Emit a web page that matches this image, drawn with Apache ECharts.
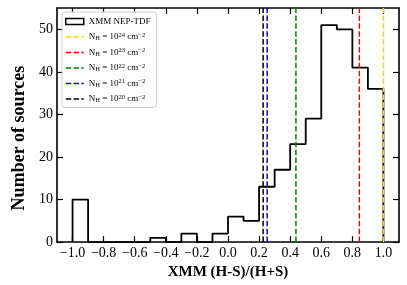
<!DOCTYPE html>
<html><head><meta charset="utf-8">
<script src="https://cdn.jsdelivr.net/npm/echarts@6/dist/echarts.min.js"></script>
<style>html,body{margin:0;padding:0;background:#fff}#c{width:407px;height:285px}</style>
</head><body><div id="c"></div>
<script>
// Histogram bins (left edges, width 0.1) and counts
const binStarts = [-1.0,-0.9,-0.8,-0.7,-0.6,-0.5,-0.4,-0.3,-0.2,-0.1,0.0,0.1,0.2,0.3,0.4,0.5,0.6,0.7,0.8,0.9];
const binEnds   = [-0.9,-0.8,-0.7,-0.6,-0.5,-0.4,-0.3,-0.2,-0.1,0.0,0.1,0.2,0.3,0.4,0.5,0.6,0.7,0.8,0.9,1.0];
const counts    = [10,0,0,0,0,1,0,2,0,2,6,5,13,17,23,29,51,50,41,36];
// NH reference lines
const nhNames  = ['24','23','22','21','20'];
const nhValues = [1.0, 0.845, 0.437, 0.252, 0.226];
const nhColors = ['#FFD700','#FF0000','#008000','#0000FF','#000000'];
// ticks
const xTicks = [-1.0,-0.8,-0.6,-0.4,-0.2,0.0,0.2,0.4,0.6,0.8,1.0];
const yTicks = [0,10,20,30,40,50];

const yMax = 55;
const histPts = [[binStarts[0],0]];
for (let i=0;i<counts.length;i++){ histPts.push([binStarts[i],counts[i]]); histPts.push([binEnds[i],counts[i]]); }
histPts.push([binEnds[binEnds.length-1],0]);

const FONT = 'Liberation Serif';
const dashIcon = 'path://M0,0h.01v.01h-.01z M18,6h-.01v-.01h.01z M0,2.3h5.5v1.5h-5.5z M7.8,2.3h5.5v1.5h-5.5z M15.6,2.3h2.4v1.5h-2.4z';

const series = [{
  name:'hist', type:'line', data:histPts, symbol:'none', silent:true,
  lineStyle:{color:'#000', width:1.8}, itemStyle:{color:'#000'}, z:2
}];
const legendData = [{name:'hist', icon:'rect', itemStyle:{color:'#fff', borderColor:'#000', borderWidth:1.5}}];
nhValues.forEach((v,i)=>{
  const nm = 'nh'+nhNames[i];
  series.push({name:nm, type:'line', data:[[v,0],[v,yMax]], symbol:'none', silent:true,
    lineStyle:{color:nhColors[i], width:1.5, type:[5.5,2.4]}, itemStyle:{color:nhColors[i]}, z:3});
  legendData.push({name:nm, icon:dashIcon, itemStyle:{color:nhColors[i]}});
});

const fmtX = v => (v<0?'\u2212':'') + Math.abs(v).toFixed(1);
const axisLine = {show:true, onZero:false, lineStyle:{color:'#000', width:1.6}};
const tickStyle = {inside:true, length:6, lineStyle:{color:'#000', width:1.2}};

const chart = echarts.init(document.getElementById('c'), null, {renderer:'canvas'});
chart.setOption({
  animation:false,
  backgroundColor:'#fff',
  grid:{left:57, right:8, top:8, bottom:37, containLabel:false},
  legend:{
    orient:'vertical', left:62, top:12, data:legendData,
    itemWidth:18, itemHeight:6, itemGap:4.5,
    padding:[4,6,3,3],
    borderColor:'#cccccc', borderWidth:1, borderRadius:3, backgroundColor:'rgba(255,255,255,0.85)',
    textStyle:{fontFamily:FONT, fontSize:9, color:'#000', lineHeight:11,
      rich:{
        t:{fontFamily:FONT, fontSize:9, color:'#000'},
        sub:{fontFamily:FONT, fontSize:6.5, color:'#000', padding:[3,0,0,0]},
        sup:{fontFamily:FONT, fontSize:6.5, color:'#000', padding:[0,0,4,0]}
      }},
    formatter: n => n==='hist' ? '{t|XMM NEP-TDF}' : '{t|N}{sub|H}{t| = 10}{sup|'+n.slice(2)+'}{t| cm}{sup|\u22122}'
  },
  xAxis:[{
    type:'value', min:-1.1, max:1.1, position:'bottom',
    name:'XMM (H-S)/(H+S)', nameLocation:'middle', nameGap:21,
    nameTextStyle:{fontFamily:FONT, fontSize:15, fontWeight:'bold', color:'#000'},
    axisLine:axisLine, splitLine:{show:false},
    axisTick:Object.assign({customValues:xTicks}, tickStyle),
    axisLabel:{customValues:xTicks, formatter:fmtX, fontFamily:FONT, fontSize:14, color:'#000', margin:4}
  },{
    type:'value', min:-1.1, max:1.1, position:'top',
    axisLine:axisLine, splitLine:{show:false},
    axisTick:Object.assign({customValues:xTicks}, tickStyle),
    axisLabel:{show:false}
  }],
  yAxis:[{
    type:'value', min:0, max:yMax, position:'left',
    name:'Number of sources', nameLocation:'middle', nameGap:17, nameRotate:90,
    nameTextStyle:{fontFamily:FONT, fontSize:18, fontWeight:'bold', color:'#000', padding:[0,26,0,0]},
    axisLine:axisLine, splitLine:{show:false},
    axisTick:Object.assign({customValues:yTicks}, tickStyle),
    axisLabel:{customValues:yTicks, fontFamily:FONT, fontSize:14, color:'#000', margin:4}
  },{
    type:'value', min:0, max:yMax, position:'right',
    axisLine:axisLine, splitLine:{show:false},
    axisTick:Object.assign({customValues:yTicks}, tickStyle),
    axisLabel:{show:false}
  }],
  series: series
});
</script></body></html>
